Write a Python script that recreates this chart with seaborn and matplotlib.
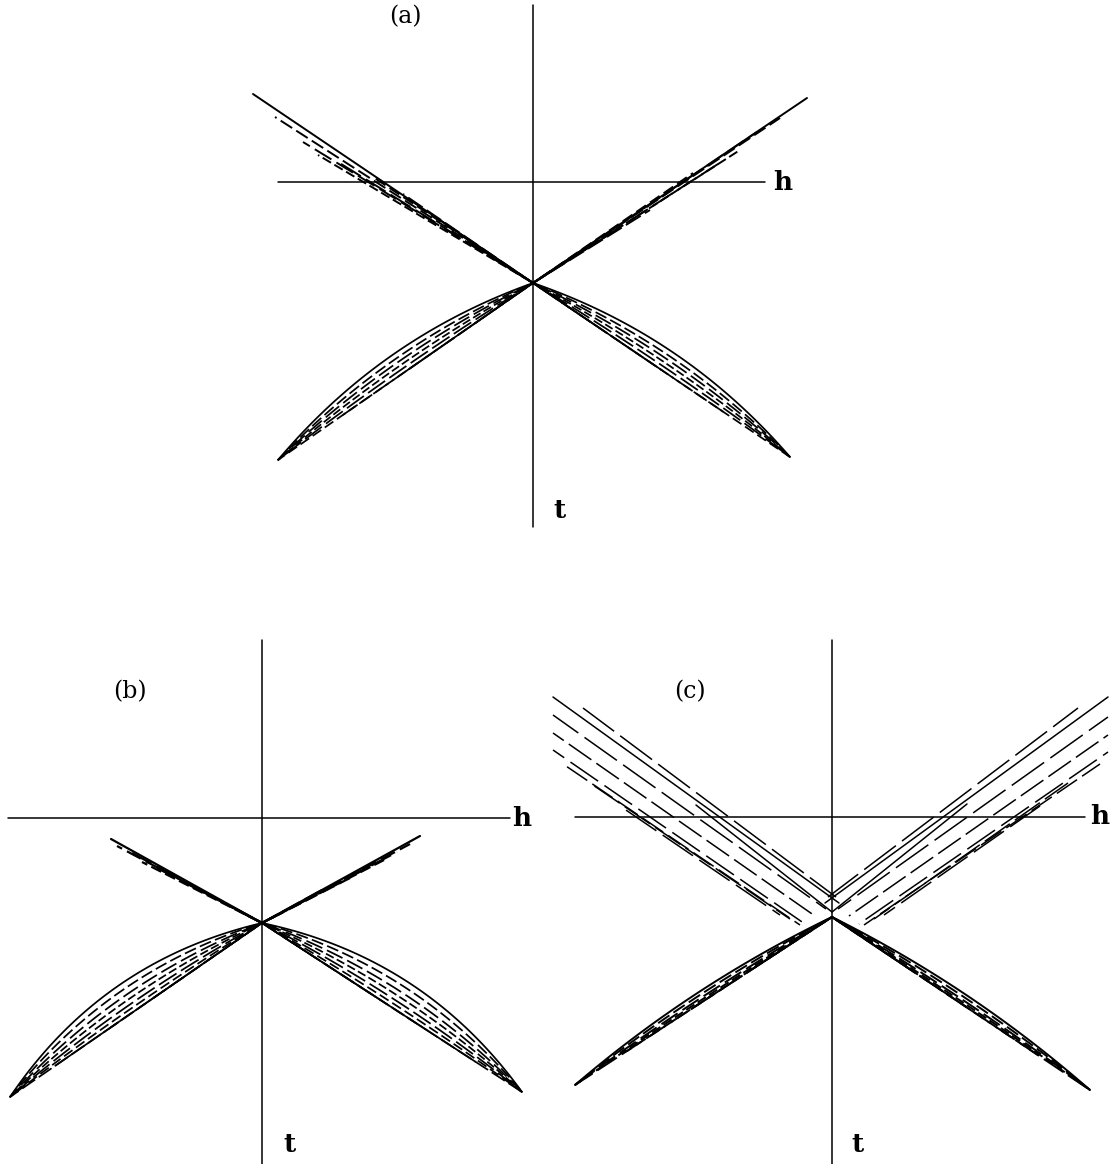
import numpy as np
import matplotlib
matplotlib.use("Agg")
import matplotlib.pyplot as plt
import seaborn as sns

sns.set_theme(style="white")
plt.rcParams["font.family"] = ["DejaVu Serif", "DejaVu Sans"]

# ---------------- panel (a) ----------------
# crossing point of the four fans (h, t); t grows downward
A_CENTER = (0.0, 1.01)
# upper-left / upper-right fan tips (straight rays from the crossing)
A_UL_H = [-2.80, -2.58, -2.30, -2.15, -1.95, -1.60, -1.30, -0.96, -0.60]
A_UL_T = [-0.88, -0.65, -0.40, -0.27, -0.20, -0.05, 0.12, 0.36, 0.62]
A_UR_H = [2.74, 2.47, 2.24, 2.07, 1.85, 1.60, 1.17, 0.80, 0.57]
A_UR_T = [-0.84, -0.64, -0.50, -0.32, -0.18, -0.09, 0.28, 0.50, 0.63]
# lower fans: common tip, bow (sagitta) of each curve, fraction of the curve drawn
A_LL_TIP = (-2.55, 2.78)
A_LR_TIP = (2.57, 2.75)
A_LO_S = [0.21, 0.16, 0.12, 0.08, 0.04, 0.00, 0.00, 0.00, 0.00]
A_LO_F = [1.00, 1.00, 1.00, 1.00, 1.00, 1.00, 0.75, 0.50, 0.25]

# ---------------- panel (b) ----------------
B_CENTER = (0.0, 1.05)
B_UL_H = [-1.51, -1.45, -1.30, -1.20, -1.05, -0.85, -0.62]
B_UL_T = [0.21, 0.28, 0.35, 0.44, 0.50, 0.60, 0.72]
B_UR_H = [1.58, 1.48, 1.35, 1.22, 1.05, 0.88, 0.60]
B_UR_T = [0.18, 0.26, 0.34, 0.42, 0.50, 0.60, 0.72]
B_LL_TIP = (-2.52, 2.79)
B_LR_TIP = (2.60, 2.74)
B_LO_S = [0.30, 0.24, 0.18, 0.13, 0.08, 0.04, 0.00, 0.00, 0.00, 0.00]
B_LO_F = [1.00, 1.00, 1.00, 1.00, 1.00, 1.00, 1.00, 0.82, 0.63, 0.43]

# ---------------- panel (c) ----------------
C_CENTER = (0.0, 1.00)
# upper fans run from their outer tip (H0, T0) to an end near the crossing (H1, T1)
C_UL_H0 = [-2.79, -2.79, -2.79, -2.79, -2.69, -2.42, -2.12, -1.36, -2.49]
C_UL_T0 = [-1.20, -1.02, -0.84, -0.67, -0.53, -0.34, -0.11, -0.12, -1.09]
C_UL_H1 = [0.07, -0.06, -0.17, -0.27, -0.32, -0.42, -0.52, 0.00, 0.04]
C_UL_T1 = [0.86, 0.92, 0.99, 1.07, 1.08, 1.02, 0.98, 0.95, 0.80]
C_UR_H0 = [2.76, 2.76, 2.76, 2.76, 2.68, 2.36, 2.08, 1.35, 2.46]
C_UR_T0 = [-1.20, -1.00, -0.82, -0.65, -0.53, -0.34, -0.11, -0.13, -1.09]
C_UR_H1 = [-0.07, 0.06, 0.17, 0.27, 0.32, 0.42, 0.52, 0.00, -0.04]
C_UR_T1 = [0.86, 0.92, 0.99, 1.07, 1.08, 1.02, 0.98, 0.95, 0.80]
C_LL_TIP = (-2.57, 2.68)
C_LR_TIP = (2.58, 2.73)
C_LO_S = [0.10, 0.07, 0.04, 0.02, 0.00, 0.00, 0.00, 0.00]
C_LO_F = [1.00, 1.00, 1.00, 1.00, 1.00, 0.80, 0.55, 0.30]

# dash patterns (points, scaled by line width)
SHORT = [None, (7, 2.5), (10, 3), (5, 2), (12, 3), (6, 2.5), (9, 2.5)]
LONG = [None, (26, 5), (18, 4), (22, 5), (16, 4), (20, 4), (24, 5)]

W, H = 1110, 1164
fig = plt.figure(figsize=(W / 100, H / 100), dpi=100)
fig.patch.set_facecolor("white")


def make_axes(box, origin):
    """box = (x0, y0, x1, y1) in pixels, origin = axis crossing in pixels; 1 unit = 100 px."""
    x0, y0, x1, y1 = box
    ox, oy = origin
    ax = fig.add_axes([x0 / W, 1 - y1 / H, (x1 - x0) / W, (y1 - y0) / H])
    ax.set_xlim((x0 - ox) / 100, (x1 - ox) / 100)
    ax.set_ylim((y1 - oy) / 100, (y0 - oy) / 100)
    ax.set_axis_off()
    return ax


def bowed(p0, p2, s, frac=1.0, n=90):
    p0 = np.asarray(p0, float)
    p2 = np.asarray(p2, float)
    d = p2 - p0
    nrm = np.array([d[1], -d[0]]) / np.hypot(*d)
    if nrm[1] > 0:
        nrm = -nrm
    p1 = (p0 + p2) / 2 + 2 * s * nrm
    u = np.linspace(0, frac, n)[:, None]
    pts = (1 - u) ** 2 * p0 + 2 * (1 - u) * u * p1 + u ** 2 * p2
    return pts[:, 0], pts[:, 1]


def draw(ax, starts, ends, bows, fracs, patterns, lw=1.25, seed=0.0):
    for i, (p0, p2, s, f) in enumerate(zip(starts, ends, bows, fracs)):
        hx, ty = bowed(p0, p2, s, f)
        pat = patterns[i % len(patterns)]
        ls = "-" if pat is None else ((seed + 3.7 * i) % sum(pat), pat)
        sns.lineplot(x=hx, y=ty, ax=ax, color="black", lw=lw, sort=False,
                     estimator=None, linestyle=ls, legend=False)


def rays(center, hs, ts):
    n = len(hs)
    return [center] * n, list(zip(hs, ts)), [0.0] * n, [1.0] * n


def lens(center, tip, bows, fracs):
    n = len(bows)
    return [center] * n, [tip] * n, bows, fracs


def segments(h0, t0, h1, t1):
    n = len(h0)
    return list(zip(h0, t0)), list(zip(h1, t1)), [0.0] * n, [1.0] * n


def frame(ax, hrange, trange, hpos, tpos, tag, tagpos):
    ax.plot(hrange, [0, 0], color="black", lw=1.1)
    ax.plot([0, 0], trange, color="black", lw=1.1)
    for pos, s in ((hpos, "h"), (tpos, "t")):
        ax.text(*pos, s, fontsize=19, fontweight="bold", ha="center", va="center",
                color="black", family=["DejaVu Serif"])
    ax.text(*tagpos, tag, fontsize=17, ha="center", va="center", color="black",
            family=["DejaVu Serif"])


# ----- (a) -----
axa = make_axes((180, 0, 880, 545), (533, 182))
frame(axa, [-2.55, 2.32], [-1.77, 3.45], (2.50, 0.0), (0.27, 3.28), "(a)", (-1.28, -1.65))
draw(axa, *rays(A_CENTER, A_UL_H, A_UL_T), SHORT, lw=1.4, seed=1)
draw(axa, *rays(A_CENTER, A_UR_H, A_UR_T), SHORT, lw=1.4, seed=2)
draw(axa, *lens(A_CENTER, A_LL_TIP, A_LO_S, A_LO_F), SHORT, seed=3)
draw(axa, *lens(A_CENTER, A_LR_TIP, A_LO_S, A_LO_F), SHORT, seed=4)

# ----- (b) -----
axb = make_axes((0, 600, 555, 1164), (262, 818))
frame(axb, [-2.54, 2.48], [-1.78, 3.46], (2.60, 0.0), (0.28, 3.27), "(b)", (-1.32, -1.26))
draw(axb, *rays(B_CENTER, B_UL_H, B_UL_T), SHORT, lw=1.6, seed=1)
draw(axb, *rays(B_CENTER, B_UR_H, B_UR_T), SHORT, lw=1.6, seed=2)
draw(axb, *lens(B_CENTER, B_LL_TIP, B_LO_S, B_LO_F), SHORT, seed=3)
draw(axb, *lens(B_CENTER, B_LR_TIP, B_LO_S, B_LO_F), SHORT, seed=4)

# ----- (c) -----
axc = make_axes((545, 600, 1110, 1164), (832, 817))
frame(axc, [-2.57, 2.53], [-1.77, 3.47], (2.68, 0.0), (0.26, 3.28), "(c)", (-1.42, -1.25))
draw(axc, *segments(C_UL_H0, C_UL_T0, C_UL_H1, C_UL_T1), LONG, lw=1.1, seed=2)
draw(axc, *segments(C_UR_H0, C_UR_T0, C_UR_H1, C_UR_T1), LONG, lw=1.1, seed=7)
draw(axc, *lens(C_CENTER, C_LL_TIP, C_LO_S, C_LO_F), SHORT, lw=1.4, seed=3)
draw(axc, *lens(C_CENTER, C_LR_TIP, C_LO_S, C_LO_F), SHORT, lw=1.4, seed=4)

fig.savefig("out.png", dpi=100, facecolor="white")
